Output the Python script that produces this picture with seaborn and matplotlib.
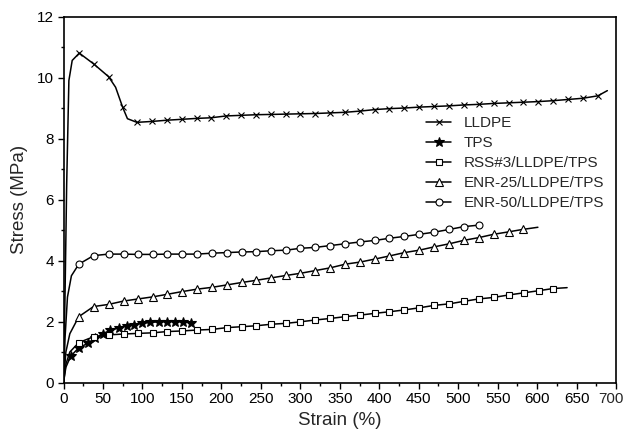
import numpy as np
import pandas as pd
import matplotlib
matplotlib.use('Agg')
import matplotlib.pyplot as plt
import seaborn as sns
from matplotlib.ticker import MultipleLocator, FuncFormatter

# data (strain %, stress MPa); *_mark = 1 where a symbol is drawn
lldpe_strain = [0, 2, 4, 6.8, 11, 20, 38, 57, 66, 75, 81, 93, 112, 131, 150, 169, 187, 206, 225, 244, 263, 282,
                300, 319, 338, 357, 376, 395, 413, 432, 451, 470, 488, 507, 526, 545, 564, 582, 601, 620, 639,
                658, 677, 689]
lldpe_stress = [0, 3.0, 6.5, 9.9, 10.56, 10.8, 10.45, 10.03, 9.68, 9.02, 8.65, 8.53, 8.56, 8.6, 8.63, 8.66, 8.68,
                8.74, 8.76, 8.78, 8.79, 8.8, 8.81, 8.82, 8.84, 8.86, 8.9, 8.95, 8.98, 9.0, 9.03, 9.05, 9.07, 9.1,
                9.12, 9.15, 9.17, 9.19, 9.21, 9.24, 9.28, 9.32, 9.4, 9.57]
lldpe_mark = [0, 0, 0, 0, 0, 1, 1, 1, 0, 1, 0] + [1] * 32 + [0]

tps_strain = [0, 3, 9, 19, 31, 40, 50, 59, 70, 80, 89, 100, 110, 121, 131, 141, 151, 161]
tps_stress = [0, 0.5, 0.86, 1.13, 1.29, 1.46, 1.6, 1.71, 1.79, 1.86, 1.9, 1.94, 1.97, 1.99, 2.0, 2.0, 1.99, 1.96]
tps_mark = [0, 0] + [1] * 16

rss_strain = [0, 3, 8, 19.4, 38, 57, 76, 94.5, 113.5, 131, 150, 169, 188, 207, 226, 244, 263, 282,
              300, 319, 338, 357, 376, 395, 413, 432, 451, 470, 489, 507, 526, 545, 564, 583, 602, 620, 638]
rss_stress = [0, 0.6, 1.0, 1.31, 1.5, 1.56, 1.59, 1.61, 1.63, 1.67, 1.69, 1.72, 1.74, 1.8, 1.83, 1.86, 1.91, 1.94,
              1.99, 2.05, 2.1, 2.16, 2.21, 2.27, 2.32, 2.38, 2.45, 2.53, 2.58, 2.66, 2.74, 2.79, 2.87, 2.94, 3.01,
              3.08, 3.11]
rss_mark = [0, 0, 0] + [1] * 33 + [0]

enr25_strain = [0, 3, 8, 19.4, 38, 57, 76, 94.5, 113.5, 131, 150, 169, 188, 207, 226, 244, 263, 282,
                300, 319, 338, 357, 376, 395, 413, 432, 451, 470, 489, 507, 526, 545, 564, 582, 601]
enr25_stress = [0, 1.0, 1.6, 2.16, 2.49, 2.56, 2.67, 2.74, 2.81, 2.89, 2.98, 3.06, 3.12, 3.2, 3.28, 3.35, 3.43,
                3.51, 3.58, 3.67, 3.76, 3.88, 3.95, 4.05, 4.15, 4.26, 4.34, 4.45, 4.55, 4.66, 4.75, 4.86, 4.94,
                5.02, 5.09]
enr25_mark = [0, 0, 0] + [1] * 31 + [0]

enr50_strain = [0, 2, 5, 10, 19.4, 38, 57, 76, 94.5, 113.5, 131, 150, 169, 188, 207, 226, 244, 263, 282,
                300, 319, 338, 357, 376, 395, 413, 432, 451, 470, 489, 507, 526]
enr50_stress = [0, 1.5, 2.8, 3.5, 3.88, 4.16, 4.21, 4.21, 4.2, 4.2, 4.21, 4.21, 4.21, 4.24, 4.26, 4.28, 4.29,
                4.32, 4.34, 4.4, 4.43, 4.49, 4.55, 4.61, 4.66, 4.73, 4.79, 4.86, 4.93, 5.02, 5.11, 5.16]
enr50_mark = [0, 0, 0, 0] + [1] * 28

series = [
    ('LLDPE', lldpe_strain, lldpe_stress, lldpe_mark, 'x', 'black', 5),
    ('TPS', tps_strain, tps_stress, tps_mark, '*', 'black', 7),
    ('RSS#3/LLDPE/TPS', rss_strain, rss_stress, rss_mark, 's', 'white', 4.5),
    ('ENR-25/LLDPE/TPS', enr25_strain, enr25_stress, enr25_mark, '^', 'white', 5.5),
    ('ENR-50/LLDPE/TPS', enr50_strain, enr50_stress, enr50_mark, 'o', 'white', 5),
]

sns.set_style('ticks')
plt.rcParams['font.family'] = ['Liberation Sans', 'DejaVu Sans']
plt.rcParams.update({
    'xtick.bottom': True, 'ytick.left': True,
    'xtick.major.size': 4, 'ytick.major.size': 4,
    'xtick.minor.size': 2.5, 'ytick.minor.size': 2.5,
    'xtick.major.width': 1, 'ytick.major.width': 1,
    'xtick.minor.width': 1, 'ytick.minor.width': 1,
    'xtick.color': 'black', 'ytick.color': 'black',
    'xtick.direction': 'out', 'ytick.direction': 'out',
})

fig = plt.figure(figsize=(6.27, 4.37), dpi=100)
ax = fig.add_axes([0.1013, 0.1247, 0.8812, 0.8375])

for name, xs, ys, mk, m, fc, ms in series:
    df = pd.DataFrame({'strain': xs, 'stress': ys})
    idx = [i for i, v in enumerate(mk) if v]
    sns.lineplot(data=df, x='strain', y='stress', ax=ax, sort=False, estimator=None,
                 color='black', linewidth=1.1, marker=m, markersize=ms, markerfacecolor=fc,
                 markeredgecolor='black', markeredgewidth=0.8, markevery=idx, label=name)

ax.set_xlim(0, 700)
ax.set_ylim(0, 12)
ax.xaxis.set_major_locator(MultipleLocator(50))
ax.xaxis.set_minor_locator(MultipleLocator(25))
ax.yaxis.set_major_locator(MultipleLocator(2))
ax.yaxis.set_minor_locator(MultipleLocator(1))
# the "700" label is drawn separately, a little to the left, so it stays inside the canvas
ax.xaxis.set_major_formatter(FuncFormatter(lambda v, p: '' if v >= 700 else '%d' % v))
ax.tick_params(which='both', bottom=True, left=True, top=False, right=False)
ax.tick_params(which='major', labelsize=11, labelcolor='black', pad=3)
for s in ax.spines.values():
    s.set_linewidth(1.2)
    s.set_color('black')
    s.set_visible(True)
ax.annotate('700', xy=(700, 0), xycoords='data', xytext=(-3.5, -7), textcoords='offset points',
            ha='center', va='top', fontsize=11, annotation_clip=False)

ax.set_xlabel('Strain (%)', fontsize=13.5, labelpad=4)
ax.set_ylabel('Stress (MPa)', fontsize=13.5, labelpad=6)

ax.legend(loc='upper left', bbox_to_anchor=(0.645, 0.745), frameon=False, fontsize=11,
          handlelength=1.65, labelspacing=0.4, handletextpad=0.8, borderaxespad=0)

fig.savefig('out.png', dpi=100)
